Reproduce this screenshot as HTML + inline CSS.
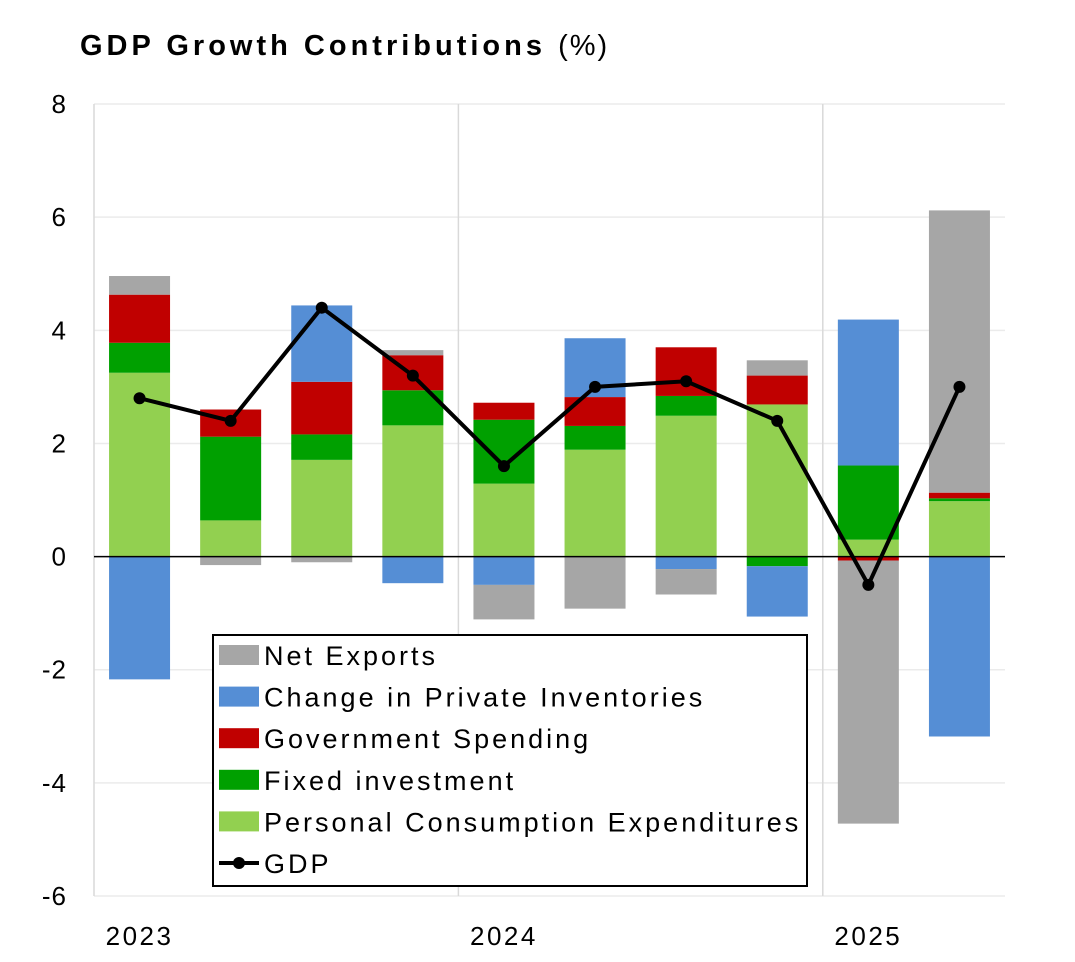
<!DOCTYPE html>
<html><head><meta charset="utf-8"><style>
body{margin:0;background:#fff;font-family:"Liberation Sans",sans-serif;}
svg text{font-family:"Liberation Sans",sans-serif;}
</style></head><body>
<svg id="chart" width="1075" height="957">
<text x="80" y="55" font-size="29" font-weight="bold" fill="#000" letter-spacing="4">GDP Growth Contributions <tspan font-weight="normal" letter-spacing="2">(%)</tspan></text>
<g id="grid"></g><g id="bars"></g><g id="line"></g><g id="axes"></g><g id="legend"></g>
</svg>
<script>
const categories=["2023Q1","2023Q2","2023Q3","2023Q4","2024Q1","2024Q2","2024Q3","2024Q4","2025Q1","2025Q2"];
const pce=[3.25,0.64,1.71,2.32,1.29,1.89,2.49,2.69,0.30,0.98];
const fixedInv=[0.53,1.48,0.45,0.62,1.13,0.42,0.35,-0.17,1.31,0.05];
const govt=[0.85,0.48,0.93,0.62,0.30,0.51,0.86,0.51,-0.07,0.10];
const inventories=[-2.17,0,1.35,-0.47,-0.50,1.04,-0.22,-0.89,2.58,-3.18];
const netExports=[0.33,-0.15,-0.10,0.09,-0.61,-0.92,-0.45,0.27,-4.65,4.99];
const gdp=[2.8,2.4,4.4,3.2,1.6,3.0,3.1,2.4,-0.5,3.0];
const yTicks=[8,6,4,2,0,-2,-4,-6];
const yearLabels=["2023","2024","2025"];
const yearIdx=[0,4,8];
const NS="http://www.w3.org/2000/svg";
const X0=94,X1=1005,step=(X1-X0)/10,bw=61;
const y=v=>556.6-v*56.57;
const xc=i=>X0+step*(i+0.5);
function mk(tag,attrs,parent){const e=document.createElementNS(NS,tag);for(const k in attrs)e.setAttribute(k,attrs[k]);document.getElementById(parent).appendChild(e);return e;}
yTicks.forEach(t=>{
 const l=mk("line",{x1:X0,x2:X1,y1:y(t),y2:y(t),stroke:"#ebebeb","stroke-width":1.5},"grid");
 
 
 const tx=mk("text",{x:67,y:y(t)+9,"font-size":26,"text-anchor":"end",fill:"#000","letter-spacing":1},"axes");
 tx.textContent=t;
 
 
});
[X0,X0+4*step,X0+8*step].forEach(xx=>{
 const l=mk("line",{x1:xx,x2:xx,y1:y(8),y2:y(-6),stroke:"#d9d9d9","stroke-width":1.5},"grid");
 
 
});
yearIdx.forEach((ix,k)=>{
 const tx=mk("text",{x:xc(ix),y:945,"font-size":26,"text-anchor":"middle",fill:"#000","letter-spacing":2.5},"axes");
 tx.textContent=yearLabels[k];
 
 
});
const series=[["pce",pce,"#92d050"],["fixed-investment",fixedInv,"#00a000"],["government-spending",govt,"#c00000"],["inventories",inventories,"#558ed5"],["net-exports",netExports,"#a6a6a6"]];
categories.forEach((c,i)=>{
 let pos=0,neg=0;
 series.forEach(([nm,arr,col])=>{
  const v=arr[i]; if(!v) return;
  let a,b;
  if(v>0){a=pos;b=pos+v;pos=b;}else{a=neg;b=neg+v;neg=b;}
  const r=mk("rect",{x:xc(i)-bw/2,y:Math.min(y(a),y(b)),width:bw,height:Math.abs(y(a)-y(b)),fill:col},"bars");
  
  
 });
});
const zl=mk("line",{x1:X0,x2:X1,y1:y(0),y2:y(0),stroke:"#000","stroke-width":1.5},"axes");


const pl=mk("polyline",{points:gdp.map((v,i)=>xc(i)+","+y(v)).join(" "),fill:"none",stroke:"#000","stroke-width":4},"line");


gdp.forEach((v,i)=>{
 const c=mk("circle",{cx:xc(i),cy:y(v),r:6,fill:"#000"},"line");
 
 
});
const lb=mk("rect",{x:213,y:635,width:594,height:251,fill:"#fff",stroke:"#000","stroke-width":2},"legend");


const legendItems=[["Net Exports","#a6a6a6"],["Change in Private Inventories","#558ed5"],["Government Spending","#c00000"],["Fixed investment","#00a000"],["Personal Consumption Expenditures","#92d050"]];
legendItems.forEach(([t,col],k)=>{
 const cy=655+k*41.6;
 const r=mk("rect",{x:219,y:cy-10,width:40,height:20,fill:col},"legend");
 
 
 const tx=mk("text",{x:264,y:cy+10,"font-size":27,fill:"#000","letter-spacing":3},"legend");
 tx.textContent=t;
 
 
});
const gy=863;
const ll=mk("line",{x1:219,x2:259,y1:gy,y2:gy,stroke:"#000","stroke-width":4},"legend");


const lc=mk("circle",{cx:239,cy:gy,r:6,fill:"#000"},"legend");


const gt=mk("text",{x:264,y:gy+10,"font-size":27,fill:"#000","letter-spacing":3},"legend");
gt.textContent="GDP";


</script>
</body></html>
